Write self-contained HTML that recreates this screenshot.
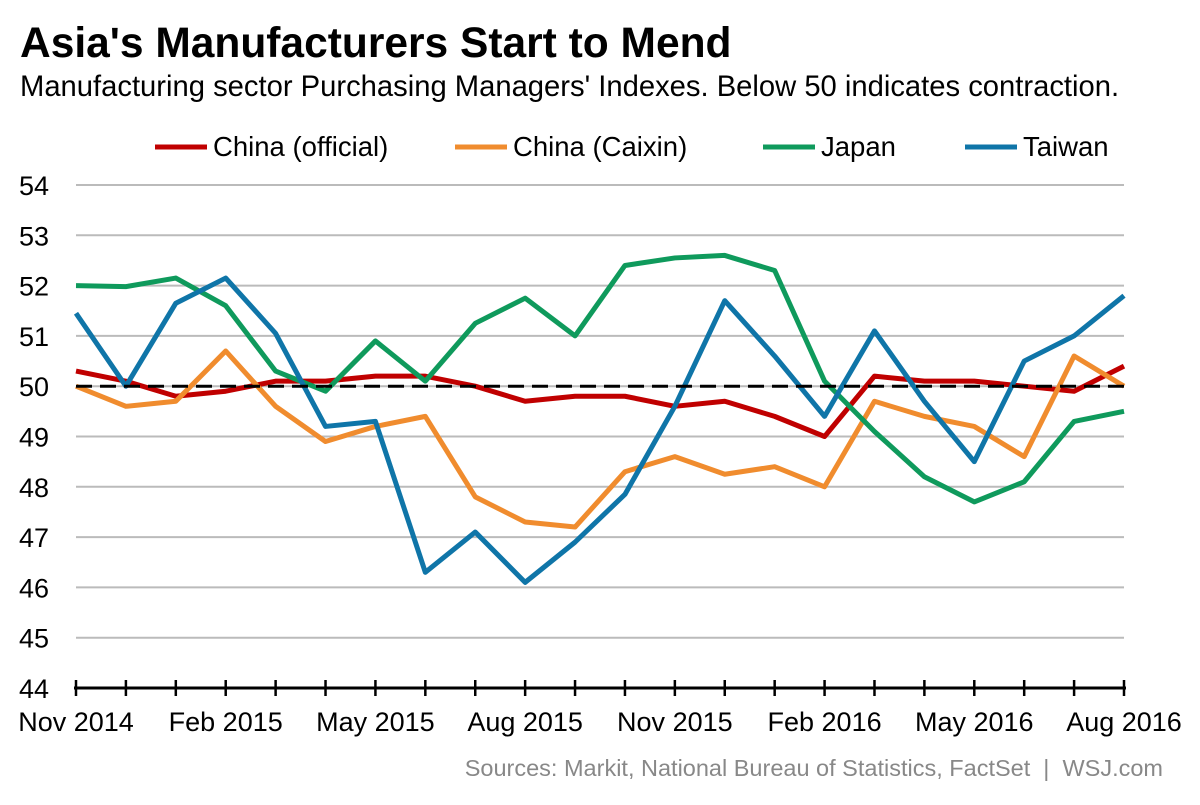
<!DOCTYPE html>
<html><head><meta charset="utf-8"><style>
body{margin:0;background:#fff;font-family:"Liberation Sans",Arial,sans-serif;}
</style></head><body>
<svg width="1200" height="800" xmlns="http://www.w3.org/2000/svg" font-family="Liberation Sans, Arial, sans-serif">
<text x="20" y="57" font-size="42.5" font-weight="bold" fill="#000">Asia's Manufacturers Start to Mend</text>
<text x="20" y="96" font-size="29.2" fill="#000">Manufacturing sector Purchasing Managers' Indexes. Below 50 indicates contraction.</text>
<g id="legend"></g>
<g id="grid"></g>
<g id="yaxis"></g>
<g id="xaxis"></g>
<g id="series"></g>
<text x="1163" y="776" font-size="23.5" fill="#888" text-anchor="end">Sources: Markit, National Bureau of Statistics, FactSet &#160;|&#160; WSJ.com</text>
</svg>
<script>
const months=["Nov 2014","Dec 2014","Jan 2015","Feb 2015","Mar 2015","Apr 2015","May 2015","Jun 2015","Jul 2015","Aug 2015","Sep 2015","Oct 2015","Nov 2015","Dec 2015","Jan 2016","Feb 2016","Mar 2016","Apr 2016","May 2016","Jun 2016","Jul 2016","Aug 2016"];
const yTicks=[44,45,46,47,48,49,50,51,52,53,54];
const chinaOfficial=[50.3,50.1,49.8,49.9,50.1,50.1,50.2,50.2,50.0,49.7,49.8,49.8,49.6,49.7,49.4,49.0,50.2,50.1,50.1,50.0,49.9,50.4];
const chinaCaixin=[50.0,49.6,49.7,50.7,49.6,48.9,49.2,49.4,47.8,47.3,47.2,48.3,48.6,48.25,48.4,48.0,49.7,49.4,49.2,48.6,50.6,50.0];
const japan=[52.0,51.98,52.15,51.6,50.3,49.9,50.9,50.1,51.25,51.75,51.0,52.4,52.55,52.6,52.3,50.1,49.1,48.2,47.7,48.1,49.3,49.5];
const taiwan=[51.45,50.0,51.65,52.15,51.05,49.2,49.3,46.3,47.1,46.1,46.9,47.85,49.6,51.7,50.6,49.4,51.1,49.7,48.5,50.5,51.0,51.8];
const seriesNames=["China (official)","China (Caixin)","Japan","Taiwan"];
const seriesData=[chinaOfficial,chinaCaixin,japan,taiwan];
const colors=["#c00000","#f08c2e","#0f9a5c","#0f75a8"];
const NS="http://www.w3.org/2000/svg";
const x=i=>76+i*(1124-76)/(months.length-1);
const y=v=>688-(v-44)*(688-185)/10;
function mk(tag,attrs,parent){const e=document.createElementNS(NS,tag);for(const k in attrs)e.setAttribute(k,attrs[k]);parent.appendChild(e);return e;}
const grid=document.getElementById('grid'),ya=document.getElementById('yaxis'),xa=document.getElementById('xaxis'),ser=document.getElementById('series'),leg=document.getElementById('legend');
yTicks.forEach(t=>{
 if(t>44){const l=mk('line',{x1:76,x2:1124,y1:y(t),y2:y(t),stroke:'#bbb','stroke-width':2},grid);
 
 }
 const tx=mk('text',{x:19,y:y(t)+10,'font-size':27,fill:'#000'},ya);tx.textContent=t;
 
 
});
const ax=mk('line',{x1:74,x2:1126,y1:688,y2:688,stroke:'#000','stroke-width':3},xa);


months.forEach((m,i)=>{
 const tk=mk('line',{x1:x(i),x2:x(i),y1:680,y2:696,stroke:'#000','stroke-width':2.5},xa);
 
 
 if(i%3===0){const tx=mk('text',{x:x(i),y:731,'font-size':27,'text-anchor':'middle',fill:'#000'},xa);tx.textContent=m;
 
 }
});
seriesData.forEach((d,s)=>{
 const p=mk('polyline',{points:d.map((v,i)=>x(i)+','+y(v)).join(' '),fill:'none',stroke:colors[s],'stroke-width':5,'stroke-linejoin':'round'},ser);
 
 
});
const dl=mk('line',{x1:76,x2:1124,y1:y(50),y2:y(50),stroke:'#000','stroke-width':3,'stroke-dasharray':'16,8'},ser);


const lx=[155,455,763,965];
seriesNames.forEach((n,s)=>{
 const l=mk('line',{x1:lx[s],x2:lx[s]+52,y1:147,y2:147,stroke:colors[s],'stroke-width':5},leg);
 
 
 const t=mk('text',{x:lx[s]+58,y:156,'font-size':27.5,fill:'#000'},leg);t.textContent=n;
 
 
});
</script>
</body></html>
